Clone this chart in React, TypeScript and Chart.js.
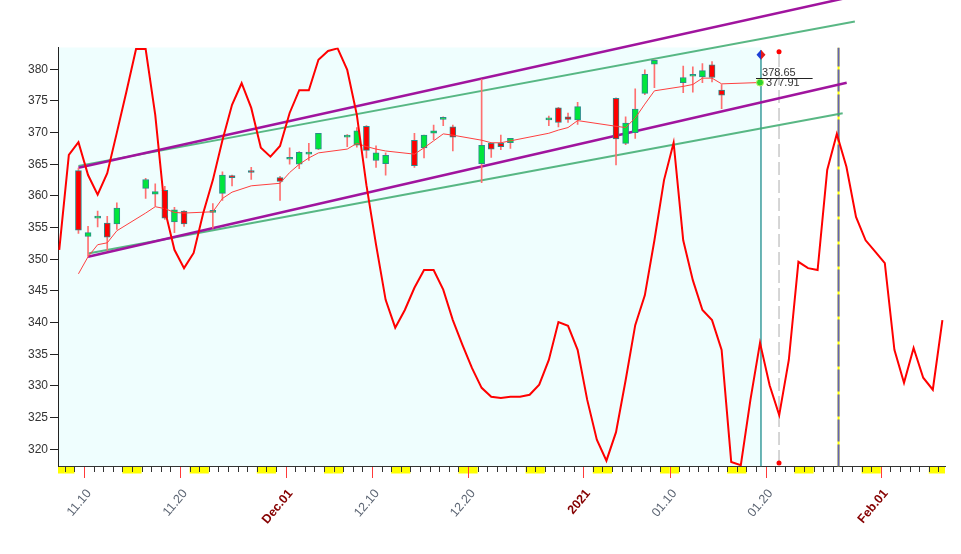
import React, { useEffect, useRef } from 'react';
import { Chart, registerables } from 'chart.js';

Chart.register(...registerables);

// ---------------- data ----------------
const BASE_DATE = '2020-11-10';
const candleDates = [
  '2020-11-09', '2020-11-10', '2020-11-11', '2020-11-12', '2020-11-13',
  '2020-11-16', '2020-11-17', '2020-11-18', '2020-11-19', '2020-11-20',
  '2020-11-23', '2020-11-24', '2020-11-25', '2020-11-27',
  '2020-11-30', '2020-12-01', '2020-12-02', '2020-12-03', '2020-12-04',
  '2020-12-07', '2020-12-08', '2020-12-09', '2020-12-10', '2020-12-11',
  '2020-12-14', '2020-12-15', '2020-12-16', '2020-12-17', '2020-12-18',
  '2020-12-21', '2020-12-22', '2020-12-23', '2020-12-24',
  '2020-12-28', '2020-12-29', '2020-12-30', '2020-12-31',
  '2021-01-04', '2021-01-05', '2021-01-06', '2021-01-07', '2021-01-08',
  '2021-01-11', '2021-01-12', '2021-01-13', '2021-01-14', '2021-01-15',
];
const opens = [364.0, 353.6, 356.5, 355.7, 355.6, 361.2, 360.3, 360.9, 355.9, 357.6, 357.4, 360.4, 363.2, 363.8, 362.9, 365.8, 365.0, 366.6, 367.4, 369.3, 368.0, 371.0, 365.6, 365.1, 368.8, 367.6, 369.9, 372.1, 370.9, 365.1, 368.3, 368.3, 368.4, 372.0, 373.9, 372.5, 372.0, 375.4, 368.3, 370.0, 376.2, 380.8, 377.9, 378.9, 378.8, 380.7, 376.7];
const highs = [364.4, 355.2, 357.6, 356.8, 358.9, 362.8, 361.9, 361.5, 358.2, 357.7, 358.8, 363.8, 363.3, 364.5, 363.1, 367.6, 367.0, 368.3, 369.9, 369.7, 370.8, 371.1, 367.9, 366.8, 369.9, 369.6, 371.2, 372.5, 371.2, 378.4, 368.4, 369.6, 369.1, 372.6, 374.0, 373.1, 374.8, 375.5, 372.5, 376.9, 379.9, 381.5, 380.5, 380.4, 380.9, 381.2, 377.6];
const lows = [354.1, 350.5, 355.1, 351.4, 354.7, 359.6, 358.4, 356.3, 354.2, 355.2, 354.9, 359.3, 361.6, 362.6, 359.3, 365.0, 364.3, 365.6, 367.3, 367.8, 367.7, 366.0, 364.5, 363.3, 364.5, 366.0, 368.9, 371.1, 367.1, 362.1, 366.1, 367.3, 367.5, 371.1, 370.9, 371.6, 371.3, 364.9, 368.1, 369.1, 376.0, 377.1, 376.3, 376.4, 377.9, 378.0, 373.8];
const closes = [354.6, 354.2, 356.7, 353.5, 358.1, 362.6, 360.7, 356.5, 357.8, 355.6, 357.6, 363.3, 362.9, 363.7, 362.3, 366.1, 366.9, 366.7, 369.9, 369.4, 370.3, 367.2, 366.8, 366.4, 364.8, 369.6, 370.3, 372.3, 369.3, 368.0, 367.4, 367.8, 369.1, 372.3, 371.6, 372.1, 374.1, 369.0, 371.5, 373.7, 379.2, 381.4, 378.7, 379.1, 379.8, 378.7, 375.9];
const maValues = [347.7, 350.4, 352.3, 352.6, 354.5, 357.3, 358.3, 358.0, 357.4, 357.3, 357.5, 359.6, 360.6, 361.6, 362.0, 363.7, 365.0, 366.0, 366.8, 367.4, 368.3, 367.8, 367.4, 367.1, 366.6, 367.6, 368.7, 369.8, 369.6, 368.8, 368.4, 368.4, 368.7, 369.9, 370.4, 370.8, 371.9, 371.0, 370.8, 372.3, 374.5, 376.6, 377.3, 377.6, 378.6, 378.6, 377.7];
const maNowDay = 70.42;
const maNowValue = 377.91;
const lastPrice = 378.65;

// daily cycle projection, first value on cycleStartDate
const cycleStartDate = '2020-11-07';
const cycleValues = [
  351.5, 366.5, 368.5, 363.3, 360.2, 363.6, 370.0, 376.5, 383.2, 383.2,
  372.8, 357.8, 351.5, 348.6, 351.0, 357.3, 362.5, 368.8, 374.4, 377.8,
  373.9, 367.6, 366.2, 367.9, 373.1, 376.7, 376.7, 381.5, 382.9, 383.3,
  379.9, 372.8, 361.7, 352.3, 343.6, 339.2, 342.0, 345.5, 348.3, 348.3,
  345.2, 340.4, 336.5, 332.8, 329.7, 328.3, 328.1, 328.3, 328.3, 328.6,
  330.2, 334.1, 340.1, 339.5, 335.7, 327.8, 321.5, 318.2, 322.7, 330.9,
  339.6, 344.3, 353.0, 362.5, 368.4, 353.0, 346.7, 342.0, 340.4, 335.7,
  318.0, 317.5, 327.8, 336.8, 330.1, 325.4, 334.1, 349.6, 348.6, 348.3,
  364.1, 369.8, 364.6, 356.7, 353.0, 351.2, 349.4, 335.7, 330.5, 336.0,
  331.3, 329.4, 340.4,
];

// channels: [startDay, startValue, endDay, endValue]
const purpleUpper = [-0.58, 364.45, 79.8, 391.4];
const purpleLower = [0.42, 350.4, 79.45, 377.88];
const greenUpper = [-0.58, 364.75, 80.3, 387.56];
const greenLower = [0.42, 350.9, 79.03, 373.07];

const nowDay = 70.52;
const dashDay = 72.4;
const dashTop = 382.78;
const dashBottom = 317.83;
const cycleMarkDay = 78.6;
const diamondValue = 382.3;
const priceLineStart = 70.0;
const priceLineEnd = 75.9;

const xTickDates = ['2020-11-10', '2020-11-20', '2020-12-01', '2020-12-10', '2020-12-20', '2021-01-01', '2021-01-10', '2021-01-20', '2021-02-01'];
const xTickLabels = ['11.10', '11.20', 'Dec.01', '12.10', '12.20', '2021', '01.10', '01.20', 'Feb.01'];
const xTickMajor = [false, false, true, false, false, true, false, false, true];
const yTicks = [320, 325, 330, 335, 340, 345, 350, 355, 360, 365, 370, 375, 380];

const X_MIN = -2.71;
const X_MAX = 89.69;
const Y_MIN = 317.28;
const Y_MAX = 383.44;

// ---------------- helpers ----------------
const utc = (s: string) => {
  const [a, b, c] = s.split('-').map(Number);
  return Date.UTC(a, b - 1, c);
};
const dayOf = (s: string) => Math.round((utc(s) - utc(BASE_DATE)) / 86400000);
const OFFSET = 0.42;
const FONT = "'Liberation Sans', Arial, sans-serif";

const candleX = candleDates.map((s) => dayOf(s) + OFFSET);
const xTickDays = xTickDates.map(dayOf);
const cycleStart = dayOf(cycleStartDate);

const seg = (c: number[]) => [
  { x: c[0], y: c[1] },
  { x: c[2], y: c[3] },
];

const decoPlugin = {
  id: 'deco',
  beforeDraw(chart: any) {
    const { ctx, chartArea: a, scales } = chart;
    const x = scales.x;
    ctx.save();
    ctx.fillStyle = '#ffffff';
    ctx.fillRect(0, 0, chart.width, chart.height);
    const nx = x.getPixelForValue(nowDay);
    ctx.fillStyle = '#effefe';
    ctx.fillRect(a.left, a.top, nx - a.left, a.bottom - a.top);
    ctx.restore();
  },
  afterDatasetsDraw(chart: any) {
    const { ctx, scales } = chart;
    const x = scales.x;
    const y = scales.y;
    ctx.save();
    const py = Math.round(y.getPixelForValue(lastPrice)) + 0.5;
    ctx.strokeStyle = '#222';
    ctx.lineWidth = 1;
    ctx.beginPath();
    ctx.moveTo(x.getPixelForValue(priceLineStart), py);
    ctx.lineTo(x.getPixelForValue(priceLineEnd), py);
    ctx.stroke();
    ctx.font = `11px ${FONT}`;
    ctx.fillStyle = '#333';
    ctx.textAlign = 'left';
    ctx.textBaseline = 'bottom';
    ctx.fillText(lastPrice.toFixed(2), x.getPixelForValue(maNowDay) + 2, py - 0.5);
    ctx.textBaseline = 'middle';
    ctx.fillText(maNowValue.toFixed(2), x.getPixelForValue(maNowDay) + 6, y.getPixelForValue(maNowValue) + 0.5);
    const dx = x.getPixelForValue(nowDay);
    const dy = y.getPixelForValue(diamondValue);
    ctx.fillStyle = '#1d3fd6';
    ctx.beginPath();
    ctx.moveTo(dx, dy - 5);
    ctx.lineTo(dx - 4.5, dy);
    ctx.lineTo(dx, dy + 5);
    ctx.closePath();
    ctx.fill();
    ctx.fillStyle = '#e21b1b';
    ctx.beginPath();
    ctx.moveTo(dx, dy - 5);
    ctx.lineTo(dx + 4.5, dy);
    ctx.lineTo(dx, dy + 5);
    ctx.closePath();
    ctx.fill();
    ctx.restore();
  },
  afterDraw(chart: any) {
    const { ctx, chartArea: a, scales } = chart;
    const x = scales.x;
    ctx.save();
    const top = a.bottom + 0.5;
    ctx.fillStyle = '#ffff00';
    for (let d = Math.floor(X_MIN); d <= Math.ceil(X_MAX); d++) {
      const wd = new Date(utc(BASE_DATE) + d * 86400000).getUTCDay();
      if (wd === 6 || wd === 0) {
        const x0 = Math.max(a.left, x.getPixelForValue(d));
        const x1 = Math.min(a.right, x.getPixelForValue(d + 1));
        if (x1 > x0) ctx.fillRect(x0, top, x1 - x0, 6.5);
      }
    }
    ctx.strokeStyle = '#333';
    ctx.lineWidth = 1;
    ctx.beginPath();
    for (let d = Math.ceil(X_MIN); d <= Math.floor(X_MAX); d++) {
      if (xTickDays.includes(d)) continue;
      const px = Math.round(x.getPixelForValue(d)) + 0.5;
      ctx.moveTo(px, top);
      ctx.lineTo(px, top + 5);
    }
    ctx.stroke();
    ctx.strokeStyle = '#ff3a3a';
    ctx.beginPath();
    xTickDays.forEach((d) => {
      const px = Math.round(x.getPixelForValue(d)) + 0.5;
      ctx.moveTo(px, top);
      ctx.lineTo(px, top + 11);
    });
    ctx.stroke();
    ctx.restore();
  },
};

export default function App() {
  const ref = useRef<HTMLCanvasElement | null>(null);

  useEffect(() => {
    if (!ref.current) return;
    Chart.defaults.font.family = FONT;

    const wickData = candleX.map((cx, i) => ({ x: cx, y: [lows[i], highs[i]] }));
    const bodyData = candleX.map((cx, i) => ({ x: cx, y: [opens[i], closes[i]] }));
    const bodyColors = opens.map((o, i) => (closes[i] >= o ? '#00e63c' : '#ff0000'));
    const maData = candleX.map((cx, i) => ({ x: cx, y: maValues[i] }));
    maData.push({ x: maNowDay, y: maNowValue });
    const cycleData = cycleValues.map((v, i) => ({ x: cycleStart + i + OFFSET, y: v }));
    const lastIdx = maData.length - 1;

    const vline = (d: number, y0: number, y1: number) => [
      { x: d, y: y0 },
      { x: d, y: y1 },
    ];
    const lineBase = { type: 'line', pointRadius: 0, tension: 0, fill: false };

    const chart = new Chart(ref.current, {
      type: 'bar',
      data: {
        datasets: [
          { ...lineBase, label: 'cycle', data: cycleData, borderColor: '#ff0000', borderWidth: 2, order: 1 },
          {
            ...lineBase,
            label: 'ma',
            data: maData,
            borderColor: '#ff4040',
            borderWidth: 1,
            pointRadius: (c: any) => (c.dataIndex === lastIdx ? 3.5 : 0),
            pointBackgroundColor: '#2bd42b',
            pointBorderColor: '#b8f060',
            pointBorderWidth: 1,
            order: 2,
          },
          {
            type: 'bar',
            label: 'body',
            data: bodyData,
            backgroundColor: bodyColors,
            borderColor: '#2a8c8c',
            borderWidth: 1,
            borderSkipped: false,
            barThickness: 6,
            minBarLength: 2,
            grouped: false,
            order: 3,
          },
          {
            type: 'bar',
            label: 'wick',
            data: wickData,
            backgroundColor: '#ff7070',
            borderWidth: 0,
            barThickness: 1,
            grouped: false,
            order: 4,
          },
          { ...lineBase, label: 'pu', data: seg(purpleUpper), borderColor: '#a0149e', borderWidth: 2.5, clip: false, order: 5 },
          { ...lineBase, label: 'pl', data: seg(purpleLower), borderColor: '#a0149e', borderWidth: 2.5, clip: false, order: 5 },
          { ...lineBase, label: 'gu', data: seg(greenUpper), borderColor: 'rgba(60,170,110,0.85)', borderWidth: 2, clip: false, order: 6 },
          { ...lineBase, label: 'gl', data: seg(greenLower), borderColor: 'rgba(60,170,110,0.85)', borderWidth: 2, clip: false, order: 6 },
          { ...lineBase, label: 'now', data: vline(nowDay, Y_MIN, 383.0), borderColor: '#3a9c9c', borderWidth: 1.5, order: 7 },
          { ...lineBase, label: 'dash', data: vline(dashDay, dashBottom, dashTop), borderColor: '#c8c8c8', borderWidth: 1.5, borderDash: [13, 5], order: 7 },
          { ...lineBase, label: 'cmB', data: vline(cycleMarkDay, Y_MIN, Y_MAX), borderColor: '#6464b4', borderWidth: 2, borderDash: [22, 3], order: 7 },
          { ...lineBase, label: 'cmY', data: vline(cycleMarkDay, Y_MIN, Y_MAX), borderColor: '#ffff00', borderWidth: 2, order: 8 },
          {
            ...lineBase,
            label: 'dots',
            data: vline(dashDay, dashBottom, dashTop),
            showLine: false,
            pointRadius: 2.5,
            pointBackgroundColor: '#ff0000',
            pointBorderWidth: 0,
            clip: false,
            order: 0,
          },
        ] as any,
      },
      options: {
        responsive: false,
        devicePixelRatio: 1,
        animation: false,
        events: [],
        layout: { padding: { left: 0, right: 16, top: 47.5, bottom: 0 } },
        plugins: { legend: { display: false }, tooltip: { enabled: false } },
        scales: {
          x: {
            type: 'linear',
            min: X_MIN,
            max: X_MAX,
            offset: false,
            grid: { display: false },
            border: { display: true, color: '#333', width: 1 },
            afterBuildTicks: (s: any) => {
              s.ticks = xTickDays.map((v) => ({ value: v }));
            },
            afterFit: (s: any) => {
              s.height = 87.5;
            },
            ticks: {
              autoSkip: false,
              minRotation: 50,
              maxRotation: 50,
              padding: 12,
              labelOffset: 5,
              callback: (v: any) => {
                const i = xTickDays.indexOf(Number(v));
                return i >= 0 ? xTickLabels[i] : '';
              },
              color: (c: any) => {
                const i = xTickDays.indexOf(c.tick ? c.tick.value : -999);
                return i >= 0 && xTickMajor[i] ? '#850000' : '#5b6472';
              },
              font: (c: any) => {
                const i = xTickDays.indexOf(c.tick ? c.tick.value : -999);
                const major = i >= 0 && xTickMajor[i];
                return { family: FONT, size: 12.5, weight: major ? 'bold' : 'normal' };
              },
            },
          },
          y: {
            type: 'linear',
            min: Y_MIN,
            max: Y_MAX,
            afterBuildTicks: (s: any) => {
              s.ticks = yTicks.map((v) => ({ value: v }));
            },
            afterFit: (s: any) => {
              s.width = 58;
            },
            grid: { display: true, drawOnChartArea: false, drawTicks: true, tickLength: 8, color: '#222' },
            border: { display: true, color: '#222', width: 1 },
            ticks: {
              padding: 2,
              color: '#333',
              font: { family: FONT, size: 12 },
              callback: (v: any) => String(v),
            },
          },
        },
      } as any,
      plugins: [decoPlugin],
    });
    return () => chart.destroy();
  }, []);

  return (
    <div style={{ position: 'absolute', left: 0, top: 0, width: 961, height: 554, background: '#fff' }}>
      <canvas ref={ref} width={961} height={554} style={{ display: 'block' }} />
    </div>
  );
}
